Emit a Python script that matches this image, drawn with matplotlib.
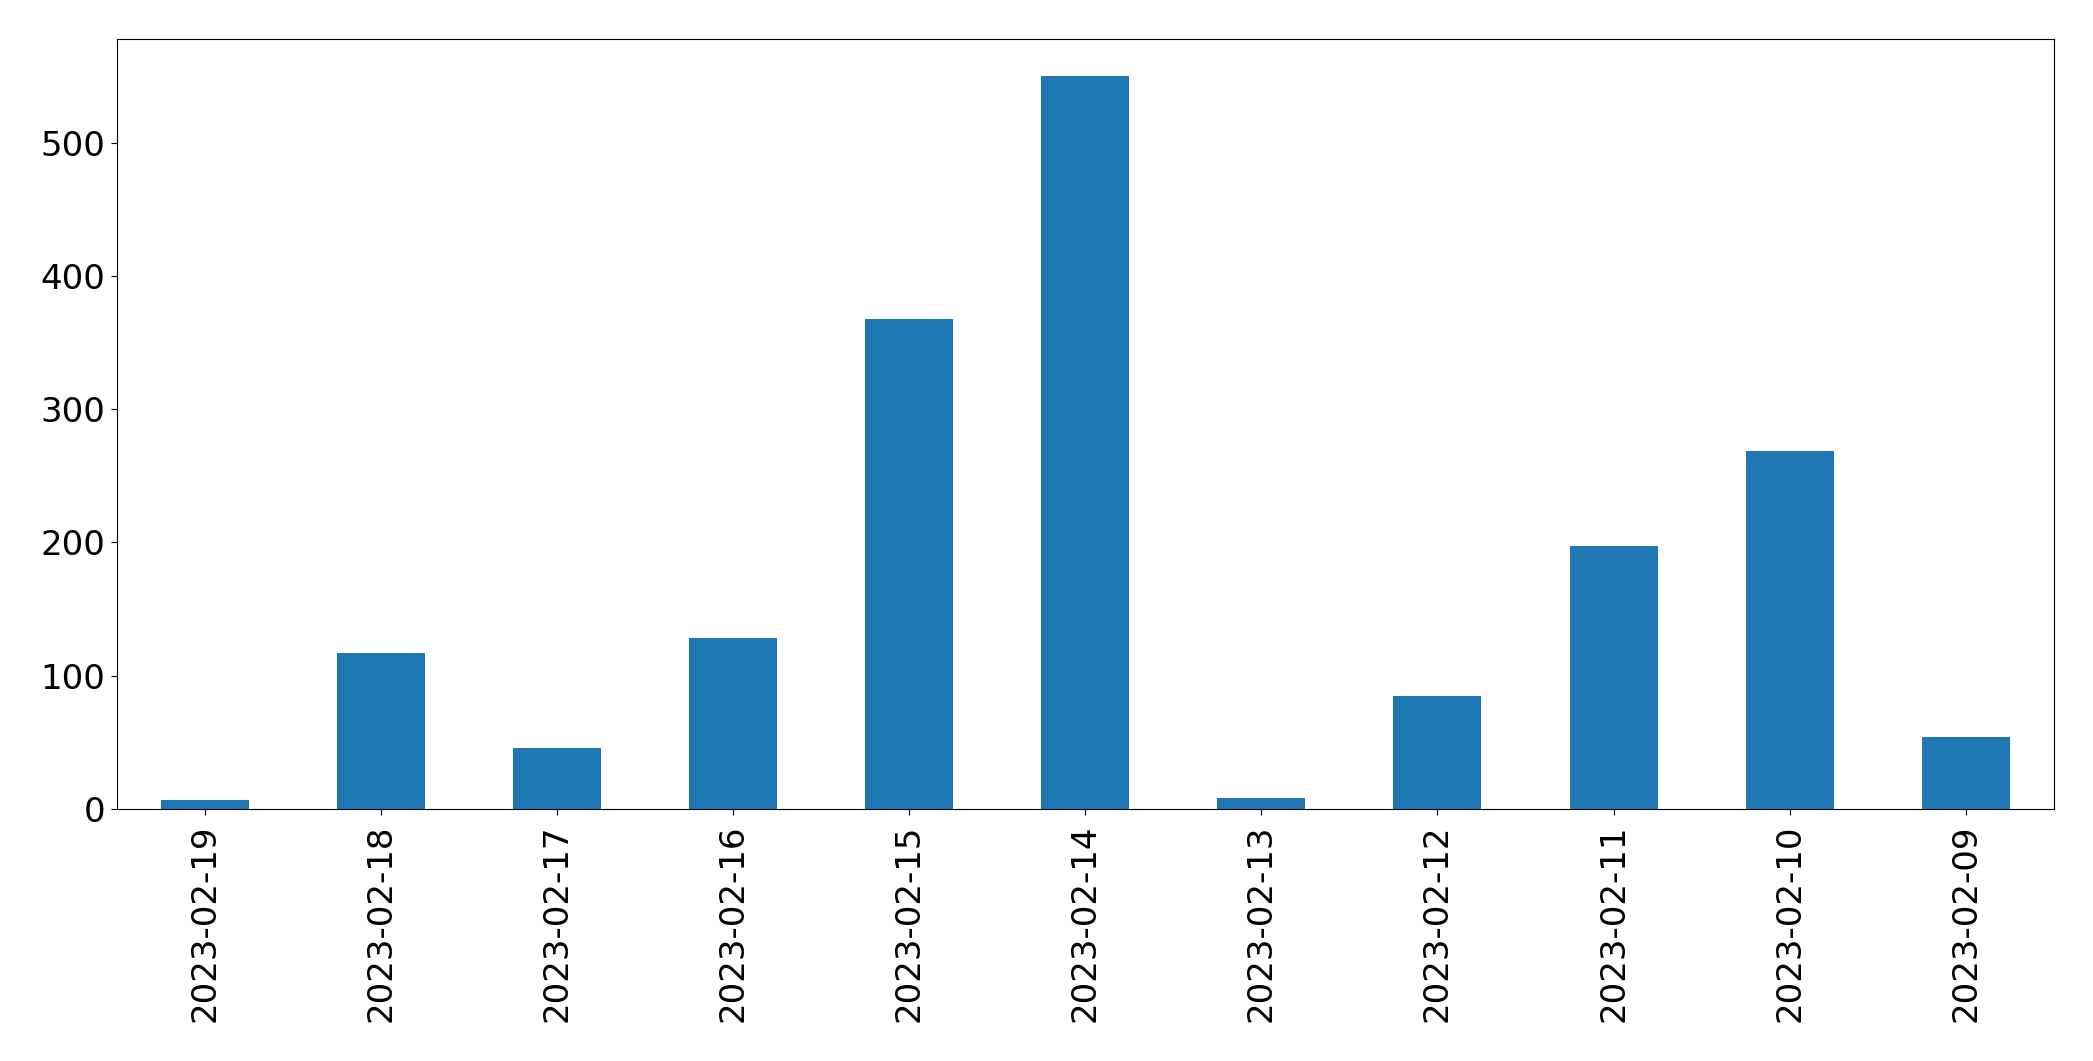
import matplotlib
matplotlib.use("Agg")
import matplotlib.pyplot as plt
import numpy as np

dates = ["2023-02-19", "2023-02-18", "2023-02-17", "2023-02-16", "2023-02-15",
         "2023-02-14", "2023-02-13", "2023-02-12", "2023-02-11", "2023-02-10",
         "2023-02-09"]
counts = [7, 117, 46, 128, 368, 550, 8, 85, 197, 269, 54]

fig = plt.figure(figsize=(20.93, 10.61), dpi=100)
ax = fig.add_axes([0.0557, 0.2375, 0.9256, 0.7254])
x = np.arange(len(dates))
ax.bar(x, counts, width=0.5, color="#1f77b4")
ax.set_xlim(-0.5, len(dates) - 0.5)
ax.set_xticks(x)
ax.set_xticklabels(dates, rotation=90)
ax.tick_params(axis="both", labelsize=24.5, length=4.5)
ax.tick_params(axis="x", pad=7)
fig.savefig("out.png", dpi=100)
